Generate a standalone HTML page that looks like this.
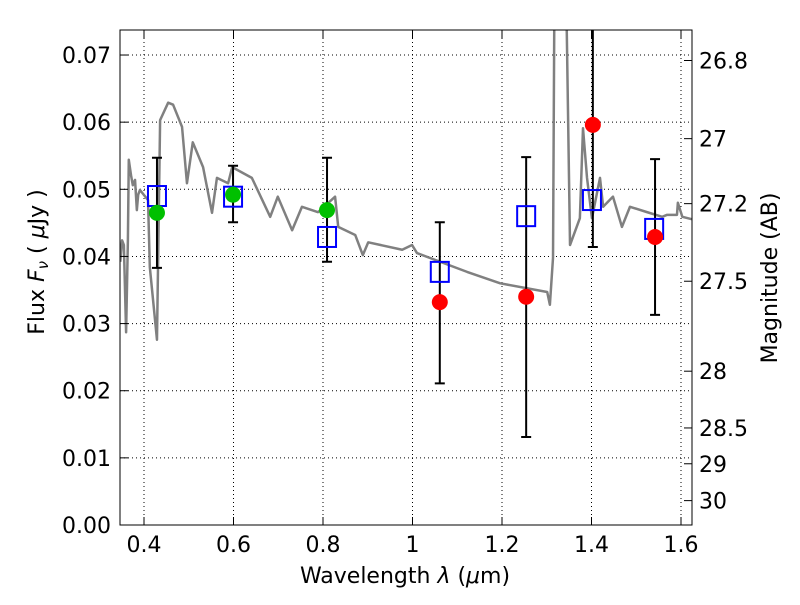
<!DOCTYPE html>
<html><head><meta charset="utf-8"><style>
body{margin:0;background:#fff}
text{font-family:"DejaVu Sans","Liberation Sans",sans-serif;font-size:22px;fill:#000}
</style></head><body>
<svg id="chart" width="800" height="600" xmlns="http://www.w3.org/2000/svg">
<defs><clipPath id="clip"><rect x="120" y="30" width="572" height="495"/></clipPath></defs>
<g id="grid"></g>
<g id="spec" clip-path="url(#clip)"></g>
<g id="marks" clip-path="url(#clip)"></g>
<rect x="120" y="30" width="572" height="495" fill="none" stroke="#000" stroke-width="1"/>
<g id="axes"></g>
<text x="405" y="583" text-anchor="middle">Wavelength  <tspan font-style="italic">λ</tspan> (<tspan font-style="italic">μ</tspan>m)</text>
<text transform="translate(44,262) rotate(-90)" text-anchor="middle">Flux  <tspan font-style="italic">F<tspan font-size="15" dy="4">ν</tspan></tspan><tspan dy="-4">  ( </tspan><tspan font-style="italic">μ</tspan>Jy )</text>
<text transform="translate(777,278) rotate(-90)" text-anchor="middle">Magnitude (AB)</text>
</svg>
<script>
const specLam=[0.347,0.351,0.355,0.360,0.364,0.366,0.371,0.375,0.380,0.384,0.387,0.391,0.409,0.413,0.429,0.436,0.454,0.465,0.485,0.496,0.509,0.532,0.552,0.563,0.588,0.597,0.641,0.682,0.699,0.731,0.753,0.789,0.827,0.834,0.872,0.889,0.901,0.977,0.999,1.010,1.122,1.196,1.301,1.307,1.314,1.318,1.341,1.352,1.374,1.381,1.390,1.401,1.419,1.426,1.448,1.468,1.486,1.524,1.558,1.569,1.591,1.593,1.603,1.627];
const specFlux=[0.0392,0.0424,0.0417,0.0287,0.0424,0.0544,0.0521,0.0506,0.0514,0.0469,0.0492,0.0499,0.0484,0.0384,0.0276,0.0603,0.0629,0.0626,0.0593,0.0509,0.0570,0.0533,0.0465,0.0517,0.0509,0.0533,0.0517,0.0459,0.0489,0.0439,0.0474,0.0466,0.0489,0.0444,0.0432,0.0402,0.0421,0.0410,0.0417,0.0405,0.0377,0.0360,0.0347,0.0328,0.0398,0.09,0.09,0.0417,0.0457,0.0591,0.0517,0.0457,0.0517,0.0474,0.0489,0.0444,0.0474,0.0466,0.0459,0.0462,0.0462,0.0480,0.0459,0.0455];
const sqLam=[0.429,0.599,0.809,1.061,1.254,1.401,1.540];
const sqFlux=[0.0490,0.0489,0.0429,0.0377,0.0460,0.0484,0.0441];
const greenLam=[0.429,0.599,0.809];
const greenFlux=[0.0465,0.0492,0.0469];
const greenHi=[0.0547,0.0535,0.0547];
const greenLo=[0.0383,0.0451,0.0392];
const redLam=[1.061,1.254,1.403,1.542];
const redFlux=[0.0332,0.0340,0.0596,0.0429];
const redHi=[0.0451,0.0548,0.0800,0.0545];
const redLo=[0.0211,0.0131,0.0414,0.0313];
const xTicks=[0.4,0.6,0.8,1.0,1.2,1.4,1.6];
const xLabels=["0.4","0.6","0.8","1","1.2","1.4","1.6"];
const yTicks=[0,0.01,0.02,0.03,0.04,0.05,0.06,0.07];
const yLabels=["0.00","0.01","0.02","0.03","0.04","0.05","0.06","0.07"];
const magTicks=[26.8,27,27.2,27.5,28,28.5,29,30];
const magLabels=["26.8","27","27.2","27.5","28","28.5","29","30"];

const X=l=>144+(l-0.4)*447.5;
const Y=f=>525-f*6714;
const NS="http://www.w3.org/2000/svg";
function mk(tag,attrs,parent){const e=document.createElementNS(NS,tag);for(const k in attrs)e.setAttribute(k,attrs[k]);document.getElementById(parent).appendChild(e);return e;}

xTicks.forEach((t,i)=>{
  const x=X(t);
  const g=mk('line',{x1:x,x2:x,y1:30,y2:525,stroke:'#000','stroke-width':1,'stroke-dasharray':'1,3'},'grid');
  
  
  mk('line',{x1:x,x2:x,y1:525,y2:517,stroke:'#000'},'axes');
  mk('line',{x1:x,x2:x,y1:30,y2:38,stroke:'#000'},'axes');
  const tx=mk('text',{x:x,y:552,'text-anchor':'middle'},'axes');
  tx.textContent=xLabels[i];
  
  
});
yTicks.forEach((t,i)=>{
  const y=Y(t);
  const g=mk('line',{x1:120,x2:692,y1:y,y2:y,stroke:'#000','stroke-width':1,'stroke-dasharray':'1,3'},'grid');
  
  
  mk('line',{x1:120,x2:128,y1:y,y2:y,stroke:'#000'},'axes');
  const tx=mk('text',{x:111,y:y+8,'text-anchor':'end'},'axes');
  tx.textContent=yLabels[i];
  
  
});
magTicks.forEach((m,i)=>{
  const y=Y(Math.pow(10,-(m-23.9)/2.5));
  mk('line',{x1:684,x2:692,y1:y,y2:y,stroke:'#000'},'axes');
  const tx=mk('text',{x:699,y:y+8,'text-anchor':'start'},'axes');
  tx.textContent=magLabels[i];
  
  
});

const sp=mk('polyline',{points:specLam.map((l,i)=>X(l)+','+Y(specFlux[i])).join(' '),fill:'none',stroke:'#808080','stroke-width':2.5,'stroke-linejoin':'round'},'spec');



function errbar(l,lo,hi){
  const x=X(l);
  const e=mk('path',{d:`M${x},${Y(lo)}V${Y(hi)}M${x-5},${Y(lo)}H${x+5}M${x-5},${Y(hi)}H${x+5}`,stroke:'#000','stroke-width':2,fill:'none'},'marks');
  
  
}
greenLam.forEach((l,i)=>errbar(l,greenLo[i],greenHi[i]));
redLam.forEach((l,i)=>errbar(l,redLo[i],redHi[i]));
sqLam.forEach((l,i)=>{
  const r=mk('rect',{x:X(l)-9,y:Y(sqFlux[i])-10,width:18,height:20,fill:'none',stroke:'#0000ff','stroke-width':2},'marks');
  
  
});
greenLam.forEach((l,i)=>{
  const c=mk('circle',{cx:X(l),cy:Y(greenFlux[i]),r:8,fill:'#00c000'},'marks');
  
  
});
redLam.forEach((l,i)=>{
  const c=mk('circle',{cx:X(l),cy:Y(redFlux[i]),r:8,fill:'#ff0000'},'marks');
  
  
});
</script>
</body></html>
